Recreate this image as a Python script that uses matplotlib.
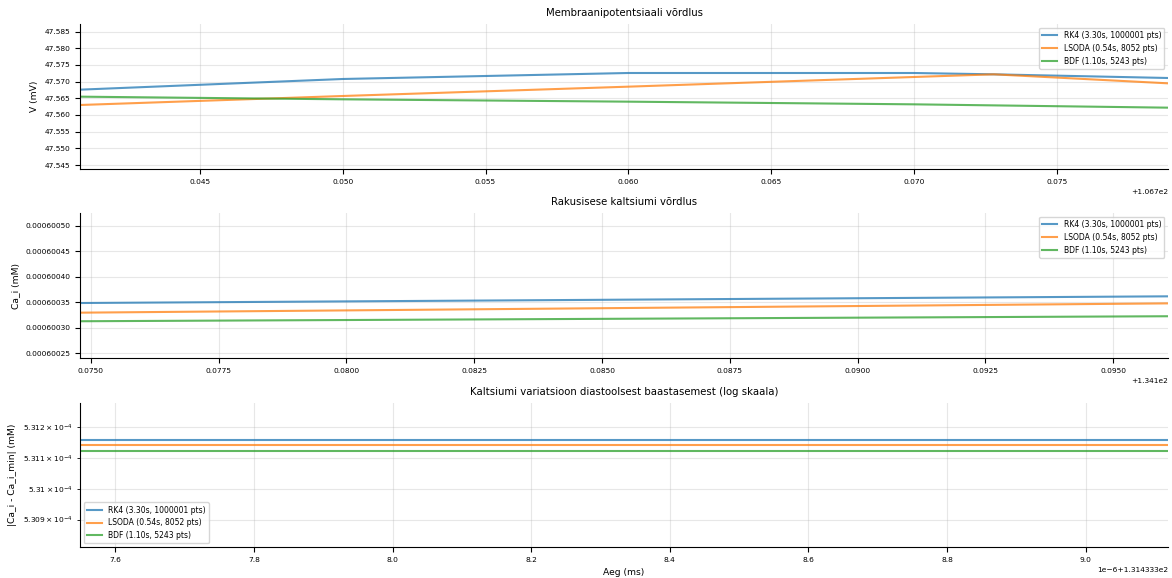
import matplotlib
matplotlib.use("Agg")
import matplotlib.pyplot as plt
import numpy as np

# Solver labels
labels = ["RK4 (3.30s, 1000001 pts)", "LSODA (0.54s, 8052 pts)", "BDF (1.10s, 5243 pts)"]
colors = ["tab:blue", "tab:orange", "tab:green"]

# Membrane potential, zoomed window (ms, mV)
v_t_rk4 = [106.7408, 106.7500, 106.7600, 106.7700, 106.7728, 106.7789]
v_rk4 = [47.5676, 47.5708, 47.5726, 47.5726, 47.5722, 47.5711]
v_t_lsoda = [106.7408, 106.7500, 106.7600, 106.7700, 106.7728, 106.7789]
v_lsoda = [47.5630, 47.5657, 47.5685, 47.5714, 47.5722, 47.5695]
v_t_bdf = [106.7408, 106.7500, 106.7600, 106.7700, 106.7789]
v_bdf = [47.5655, 47.5647, 47.5640, 47.5632, 47.5622]

# Intracellular calcium, zoomed window (ms, mM)
ca_t = [134.17479, 134.19607]
ca_rk4 = [0.0006003487, 0.0006003618]
ca_lsoda = [0.0006003298, 0.0006003480]
ca_bdf = [0.0006003130, 0.0006003228]

# Calcium deviation from diastolic baseline (ms, mM)
d_t = [131.4333 + 7.549e-6, 131.4333 + 9.119e-6]
d_rk4 = [5.31157e-4, 5.31157e-4]
d_lsoda = [5.31142e-4, 5.31142e-4]
d_bdf = [5.31122e-4, 5.31122e-4]

fig = plt.figure(figsize=(11.72, 5.78), dpi=100)
left, width, h = 0.0683, 0.9283, 0.2509
ax1 = fig.add_axes([left, 0.7076, width, h])
ax2 = fig.add_axes([left, 0.3806, width, h])
ax3 = fig.add_axes([left, 0.0536, width, 0.249])

lw, al = 1.5, 0.75
tick_fs, lab_fs, title_fs, leg_fs = 5.4, 6.6, 7.3, 5.5

# Panel 1
ax1.plot(v_t_rk4, v_rk4, color=colors[0], lw=lw, alpha=al, label=labels[0])
ax1.plot(v_t_lsoda, v_lsoda, color=colors[1], lw=lw, alpha=al, label=labels[1])
ax1.plot(v_t_bdf, v_bdf, color=colors[2], lw=lw, alpha=al, label=labels[2])
ax1.set_xlim(106.7408, 106.7789)
ax1.set_ylim(47.5438, 47.5873)
ax1.set_yticks(np.arange(47.545, 47.5851, 0.005))
ax1.ticklabel_format(axis="y", useOffset=False, style="plain")
ax1.set_ylabel("V (mV)", fontsize=lab_fs)
ax1.set_title("Membraanipotentsiaali võrdlus", fontsize=title_fs)
ax1.legend(loc="upper right", fontsize=leg_fs)

# Panel 2
ax2.plot(ca_t, ca_rk4, color=colors[0], lw=lw, alpha=al, label=labels[0])
ax2.plot(ca_t, ca_lsoda, color=colors[1], lw=lw, alpha=al, label=labels[1])
ax2.plot(ca_t, ca_bdf, color=colors[2], lw=lw, alpha=al, label=labels[2])
ax2.set_xlim(ca_t[0], ca_t[1])
ax2.set_ylim(0.000600241, 0.000600525)
ax2.ticklabel_format(axis="y", useOffset=False, style="plain")
ax2.yaxis.set_major_formatter(matplotlib.ticker.FormatStrFormatter("%.8f"))
ax2.set_ylabel("Ca_i (mM)", fontsize=lab_fs)
ax2.set_title("Rakusisese kaltsiumi võrdlus", fontsize=title_fs)
ax2.legend(loc="upper right", fontsize=leg_fs)

# Panel 3
ax3.plot(d_t, d_rk4, color=colors[0], lw=lw, alpha=al, label=labels[0])
ax3.plot(d_t, d_lsoda, color=colors[1], lw=lw, alpha=al, label=labels[1])
ax3.plot(d_t, d_bdf, color=colors[2], lw=lw, alpha=al, label=labels[2])
ax3.set_yscale("log")
ax3.set_xlim(d_t[0], d_t[1])
ax3.set_ylim(5.30811e-4, 5.31278e-4)
ax3.set_ylabel("|Ca_i - Ca_i_min| (mM)", fontsize=lab_fs)
ax3.set_xlabel("Aeg (ms)", fontsize=lab_fs)
ax3.set_title("Kaltsiumi variatsioon diastoolsest baastasemest (log skaala)", fontsize=title_fs)
ax3.legend(loc="lower left", fontsize=leg_fs)

for ax in (ax1, ax2, ax3):
    ax.grid(True, which="both", alpha=0.3)
    ax.tick_params(axis="both", which="both", labelsize=tick_fs)
    ax.xaxis.get_offset_text().set_fontsize(tick_fs)
    ax.yaxis.get_offset_text().set_fontsize(tick_fs)
    ax.spines["top"].set_visible(False)
    ax.spines["right"].set_visible(False)

fig.savefig("out.png", dpi=100)
